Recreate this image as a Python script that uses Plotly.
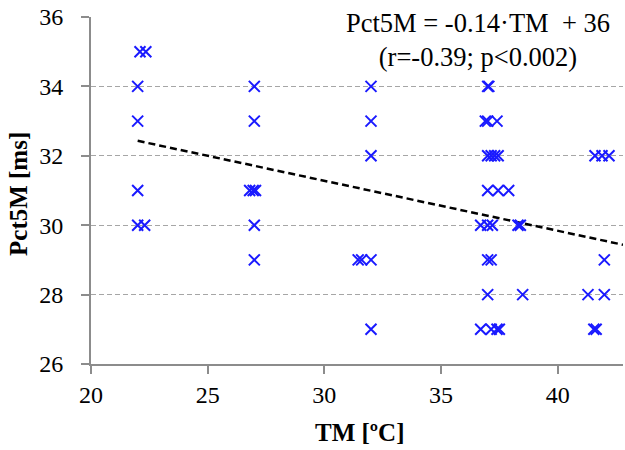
import plotly.graph_objects as go

# Data
TM = [22.1, 22.35, 22.0, 22.0, 22.0, 22.0, 22.3,
      27.0, 27.0, 26.8, 26.95, 27.05, 27.0, 27.0,
      32.0, 32.0, 32.0, 31.45, 31.6, 32.0, 32.0,
      37.0, 37.05,
      36.9, 37.0, 37.4,
      37.0, 37.15, 37.3, 37.45,
      37.0, 37.45, 37.9,
      36.7, 37.0, 37.2, 38.3, 38.4,
      37.0, 37.15,
      37.0, 38.5,
      36.7, 37.15, 37.4, 37.5,
      41.6, 41.9, 42.2,
      42.0,
      41.3, 42.0,
      41.55, 41.65]
PCT5M = [35, 35, 34, 33, 31, 30, 30,
         34, 33, 31, 31, 31, 30, 29,
         34, 33, 32, 29, 29, 29, 27,
         34, 34,
         33, 33, 33,
         32, 32, 32, 32,
         31, 31, 31,
         30, 30, 30, 30, 30,
         29, 29,
         28, 28,
         27, 27, 27, 27,
         32, 32, 32,
         29,
         28, 28,
         27, 27]

TREND_SLOPE = -0.144
TREND_INTERCEPT = 35.6
TREND_X = [22.0, 42.8]
TREND_Y = [TREND_SLOPE * x + TREND_INTERCEPT for x in TREND_X]

X_TICKS = [20, 25, 30, 35, 40]
Y_TICKS = [26, 28, 30, 32, 34, 36]
EQUATION = "Pct5M = -0.14·TM  + 36<br>(r=-0.39; p<0.002)"
X_TITLE = "<b>TM [ºC]</b>"
Y_TITLE = "<b>Pct5M [ms]</b>"

FONT = "Liberation Serif"
MARK = "#1a1aff"
AXIS = "#8c8c8c"

fig = go.Figure()
fig.add_trace(go.Scatter(
    x=TREND_X, y=TREND_Y, mode="lines",
    line=dict(color="black", width=2.5, dash="7px,4px"),
    hoverinfo="skip", showlegend=False))
fig.add_trace(go.Scatter(
    x=TM, y=PCT5M, mode="markers",
    marker=dict(symbol="x-thin-open", size=11, color=MARK,
                line=dict(color=MARK, width=2)),
    showlegend=False))

fig.update_layout(
    width=625, height=450,
    margin=dict(l=91, r=2, t=17, b=86),
    paper_bgcolor="white", plot_bgcolor="white",
    font=dict(family=FONT, size=24, color="black"),
    xaxis=dict(
        range=[20, 42.8], tickvals=X_TICKS, ticktext=[str(v) for v in X_TICKS],
        showgrid=False, zeroline=False, automargin=False,
        showline=True, linecolor=AXIS, linewidth=2,
        ticks="outside", ticklen=8, tickwidth=2, tickcolor=AXIS,
        tickfont=dict(family=FONT, size=24),
    ),
    yaxis=dict(
        range=[26, 36], tickvals=Y_TICKS, ticktext=[str(v) for v in Y_TICKS],
        showgrid=True, gridcolor="#a6a6a6", gridwidth=1, griddash="5px,3px",
        zeroline=False, automargin=False,
        showline=True, linecolor=AXIS, linewidth=2,
        ticks="outside", ticklen=8, tickwidth=2, tickcolor=AXIS,
        tickfont=dict(family=FONT, size=24),
        ticklabelstandoff=13,
    ),
    annotations=[
        dict(text=EQUATION, xref="paper", yref="paper",
             x=0.727, y=0.934, xanchor="center", yanchor="middle",
             showarrow=False, align="center",
             font=dict(family=FONT, size=26.5, color="black")),
        dict(text=X_TITLE, xref="paper", yref="paper",
             x=0.504, y=-0.196, xanchor="center", yanchor="middle",
             showarrow=False, font=dict(family=FONT, size=25, color="black")),
        dict(text=Y_TITLE, xref="paper", yref="paper", textangle=-90,
             x=-0.1353, y=0.49, xanchor="center", yanchor="middle",
             showarrow=False, font=dict(family=FONT, size=25, color="black")),
    ],
)

fig.write_html("out.html", config={"displayModeBar": False},
               post_script="document.body.style.margin='0';")
